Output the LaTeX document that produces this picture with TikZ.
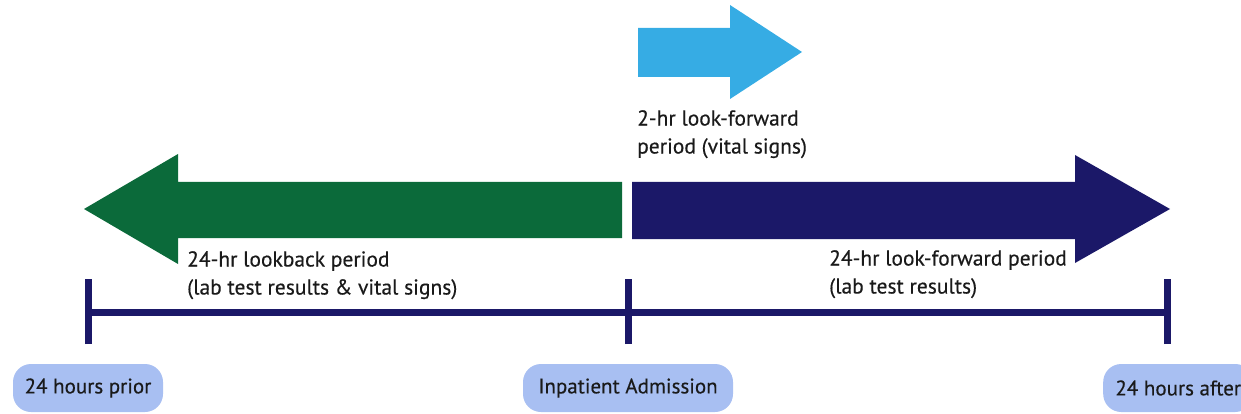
\documentclass[tikz,border=0pt]{standalone}
\usepackage{fontspec}
\setmainfont{PT Sans}[FakeBold=0.35]
\definecolor{darkgreen}{HTML}{0B6A3A}
\definecolor{navy}{HTML}{1B1868}
\definecolor{skyblue}{HTML}{36ACE4}
\definecolor{pillblue}{HTML}{A8BFF2}
\definecolor{textcol}{HTML}{1A1A1A}
\tikzset{
  pill/.style={fill=pillblue, rounded corners=18pt, minimum height=48pt, inner xsep=10pt, font=\fontsize{21}{24}\selectfont, text=textcol},
  lbl/.style={anchor=north west, align=left, inner sep=0pt, font=\fontsize{21.5}{28}\selectfont, text=textcol},
  tick/.style={line width=7pt, draw=navy},
  axis/.style={line width=7pt, draw=navy}
}
\begin{document}
\begin{tikzpicture}[x=1pt,y=-1pt]
\useasboundingbox (0,0) rectangle (1241,414);
% arrows
\fill[darkgreen] (622,182) -- (178,182) -- (178,154) -- (84,209) -- (178,264) -- (178,238) -- (622,238) -- cycle;
\fill[navy] (632,182) -- (1075,182) -- (1075,155) -- (1170,209) -- (1075,263) -- (1075,239) -- (632,239) -- cycle;
\fill[skyblue] (638,28) -- (730,28) -- (730,5) -- (802,52) -- (730,99) -- (730,77) -- (638,77) -- cycle;
% labels
\node[lbl] (l2) at (637,110) {2-hr look-forward\\period (vital signs)};
\node[lbl] (lback) at (187,251) {24-hr lookback period\\(lab test results \& vital signs)};
\node[lbl] (lfwd) at (829,250) {24-hr look-forward period\\(lab test results)};
% timeline
\coordinate (t0) at (88,312);
\coordinate (t1) at (628,312);
\coordinate (t2) at (1167,312);
\draw[axis] (t0) -- (t1) -- (t2);
\draw[tick] ([yshift=-32pt]t0) -- ([yshift=33pt]t0);
\draw[tick] ([yshift=-32pt]t1) -- ([yshift=33pt]t1);
\draw[tick] ([yshift=-32pt]t2) -- ([yshift=33pt]t2);
% pills
\node[pill, minimum width=150pt] (p0) at (88,388) {24 hours prior};
\node[pill, minimum width=210pt] (p1) at (628,388) {Inpatient Admission};
\node[pill, minimum width=150pt, anchor=west] (p2) at (1103,388) {24 hours after};
\end{tikzpicture}
\end{document}
